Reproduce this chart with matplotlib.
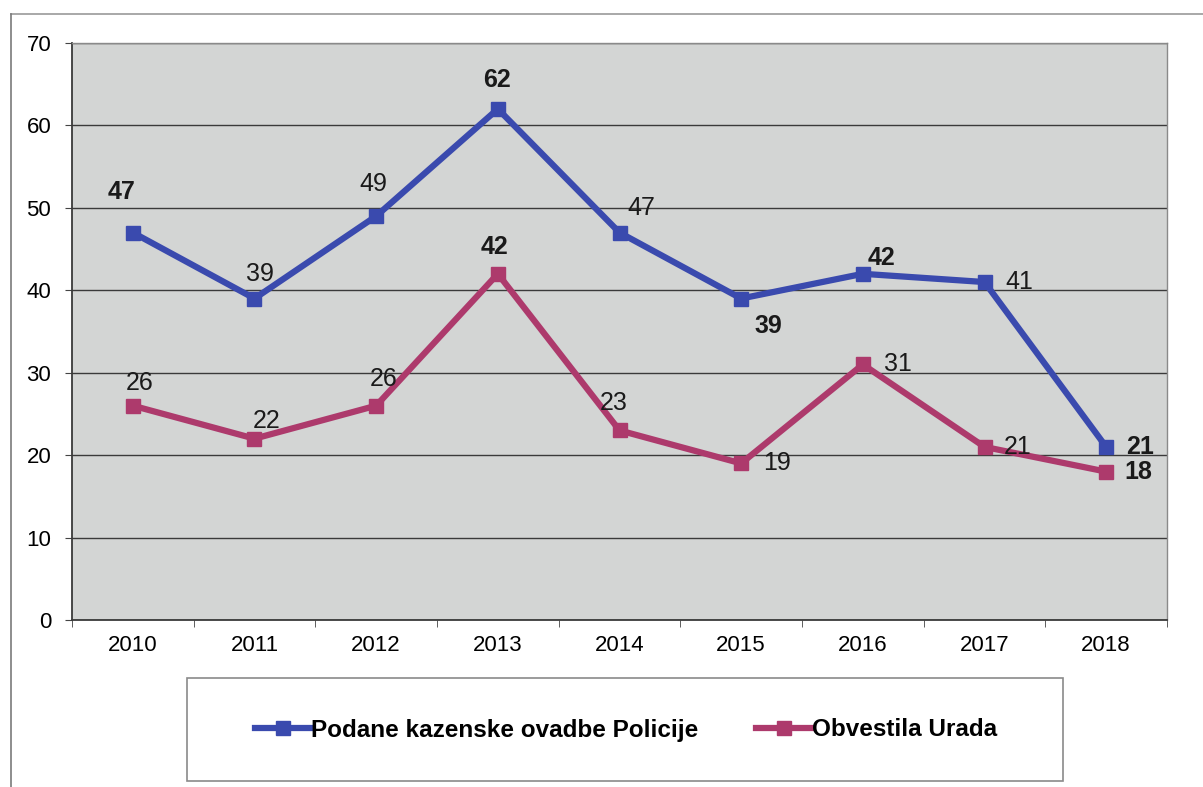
import numpy as np
import matplotlib.pyplot as plt
from matplotlib.patches import Rectangle
from matplotlib.lines import Line2D

plt.rcParams['font.family'] = ['Liberation Sans', 'DejaVu Sans']

# Podatki
leta = ['2010', '2011', '2012', '2013', '2014', '2015', '2016', '2017', '2018']
policija = [47, 39, 49, 62, 47, 39, 42, 41, 21]
urad = [26, 22, 26, 42, 23, 19, 31, 21, 18]

# odmiki oznak (v pikslih) in debelina pisave
pol_odmik = [(-11, 41), (5, 25), (-3, 32), (-1, 29), (22, 25), (27, -27), (19, 16), (35, 0), (34, 0)]
pol_krepko = [True, False, False, True, False, True, True, False, True]
urad_odmik = [(7, 23), (12, 18), (7, 27), (-3, 27), (-6, 27), (36, 0), (35, 0), (33, 0), (32, 0)]
urad_krepko = [False, False, False, True, False, False, False, False, True]

modra = '#3a4aae'
rdeca = '#ad3a6c'

W, H = 1203, 787
fig = plt.figure(figsize=(W / 100, H / 100), dpi=100)

# okvir celotnega grafa
fig.add_artist(Line2D([11 / W, 1], [1 - 14 / H, 1 - 14 / H], color='#9a9a9a', lw=1.2))
fig.add_artist(Line2D([11 / W, 11 / W], [0, 1 - 14 / H], color='#7a7a7a', lw=1.2))

ax = fig.add_axes([72 / W, 1 - 620 / H, (1167 - 72) / W, (620 - 43) / H])
ax.set_facecolor('#d3d5d4')

x = np.arange(len(leta))
ax.plot(x, policija, color=modra, lw=4.5, marker='s', ms=10, zorder=3,
        label='Podane kazenske ovadbe Policije')
ax.plot(x, urad, color=rdeca, lw=4.5, marker='s', ms=10, zorder=3,
        label='Obvestila Urada')

for i in range(len(leta)):
    ax.annotate(str(policija[i]), (x[i], policija[i]), textcoords='offset pixels',
                xytext=pol_odmik[i], ha='center', va='center', fontsize=18,
                fontweight='bold' if pol_krepko[i] else 'normal', color='#1a1a1a', zorder=4)
    ax.annotate(str(urad[i]), (x[i], urad[i]), textcoords='offset pixels',
                xytext=urad_odmik[i], ha='center', va='center', fontsize=18,
                fontweight='bold' if urad_krepko[i] else 'normal', color='#1a1a1a', zorder=4)

ax.set_xlim(-0.5, len(leta) - 0.5)
ax.set_ylim(0, 70)
ax.set_yticks(range(0, 71, 10))
ax.yaxis.grid(True, color='#3a3a3a', lw=1.0)
ax.set_axisbelow(True)

ax.set_xticks(x)
ax.set_xticklabels(leta)
ax.set_xticks(np.arange(-0.5, len(leta), 1), minor=True)
ax.tick_params(axis='x', which='major', length=0, pad=11, labelsize=16)
ax.tick_params(axis='x', which='minor', length=5, color='#444444', direction='out')
ax.tick_params(axis='y', length=5, color='#444444', labelsize=16, pad=10)

for s in ['left', 'bottom']:
    ax.spines[s].set_color('#3a3a3a')
    ax.spines[s].set_linewidth(1.3)
for s in ['top', 'right']:
    ax.spines[s].set_color('#8a8a8a')
    ax.spines[s].set_linewidth(1.0)

# legenda pod grafom
fig.add_artist(Rectangle((187 / W, 1 - 781 / H), (1063 - 187) / W, (781 - 678) / H,
                         transform=fig.transFigure, fill=False, ec='#8a8a8a', lw=1.2))
leg = fig.legend(loc='center', bbox_to_anchor=(626 / W, 1 - 730 / H), ncol=2, frameon=False,
                 handlelength=2.3, handletextpad=0.0, columnspacing=2.4,
                 prop={'weight': 'bold', 'size': 17.5})

fig.savefig('out.png', dpi=100)
